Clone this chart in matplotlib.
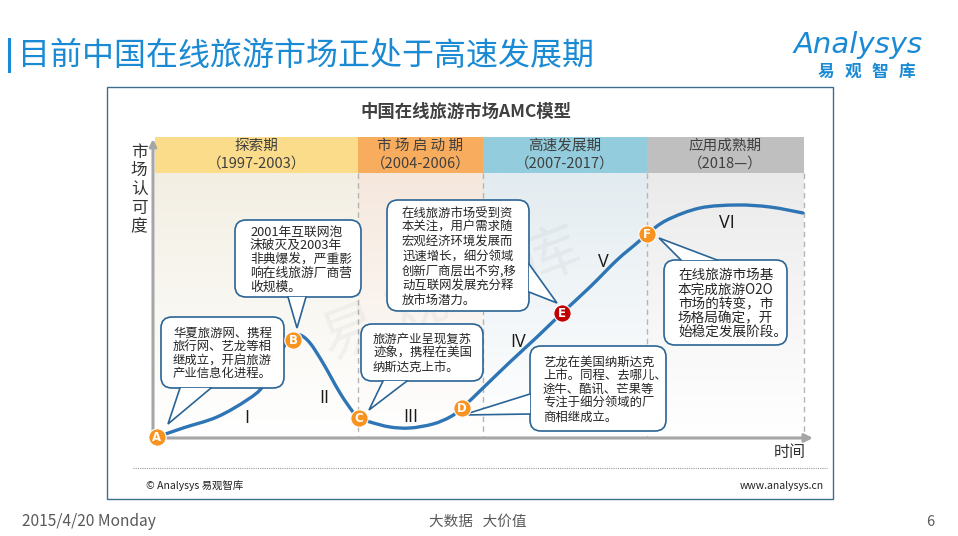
import numpy as np
import matplotlib
matplotlib.use("Agg")
import matplotlib.pyplot as plt
from matplotlib.path import Path
from matplotlib.patches import PathPatch, FancyBboxPatch, Polygon, Rectangle

plt.rcParams['font.family'] = ['Noto Sans CJK SC', 'DejaVu Sans']

# ---- data (pixel units of the 958x536 slide) ----
stage_names = ['探索期', '市 场 启 动 期', '高速发展期', '应用成熟期']
stage_years = ['（1997-2003）', '（2004-2006）', '（2007-2017）', '（2018—）']
stage_edges = [155, 358, 483, 647, 804]
stage_head = ['#fbdc8b', '#f8ad5e', '#93cddd', '#bfbfbf']
stage_tint = ['#f2eee2', '#f5e7dc', '#e2ebf0', '#eaeaea']

curve_x = [157, 183, 217, 247, 263, 275, 287, 293, 300, 310, 323, 340, 353, 359,
           370, 390, 410, 433, 450, 462, 483, 510, 537, 562, 590, 617, 637, 647,
           667, 700, 737, 770, 803]
curve_y = [437, 428, 417, 400, 386, 359, 343, 338, 335, 343, 363, 393, 412, 418,
           422, 427, 428, 424, 417, 408, 388, 362, 337, 313, 287, 260, 243, 234,
           220, 208, 205, 207, 213]

point_names = ['A', 'B', 'C', 'D', 'E', 'F']
point_x = [157, 293, 359, 462, 562, 647]
point_y = [437, 340, 418, 408, 313, 234]
point_colors = ['#f7931e', '#f7931e', '#f7931e', '#f7931e', '#c00000', '#f7931e']

numerals = ['I', 'II', 'III', 'IV', 'V', 'VI']
numeral_x = [247, 324, 411, 518, 603, 727]
numeral_y = [418, 398, 417, 342, 262, 223]

notes = [
    ['华夏旅游网、携程', '旅行网、艺龙等相', '继成立，开启旅游', '产业信息化进程。'],
    ['2001年互联网泡', '沫破灭及2003年', '非典爆发，严重影', '响在线旅游厂商营', '收规模。'],
    ['旅游产业呈现复苏', '迹象，携程在美国', '纳斯达克上市。'],
    ['在线旅游市场受到资', '本关注，用户需求随', '宏观经济环境发展而', '迅速增长，细分领域',
     '创新厂商层出不穷,移', '动互联网发展充分释', '放市场潜力。'],
    ['艺龙在美国纳斯达克', '上市。同程、去哪儿、', '途牛、酷讯、芒果等', '专注于细分领域的厂', '商相继成立。'],
    ['在线旅游市场基', '本完成旅游O2O', '市场的转变，市', '场格局确定，开', '始稳定发展阶段。'],
]
# bubble box (x0, y0, x1, y1), tail base (two points) and tail tip
note_box = [(161, 317, 284, 388), (235, 220, 361, 297), (361, 324, 483, 381),
            (387, 200, 529, 311), (530, 346, 666, 431), (664, 260, 787, 345)]
note_tail = [((180, 388), (211, 388), (168, 424)),
             ((288, 297), (306, 297), (297, 328)),
             ((383, 381), (407, 381), (369, 410)),
             ((529, 264), (529, 292), (557, 303)),
             ((530, 394), (530, 414), (463, 415)),
             ((681, 260), (717, 260), (659, 238))]
note_text = [(173, 333, 13.5, 8.9), (250, 232, 13.8, 9.2), (373, 339, 14.0, 8.9),
             (402, 213, 14.6, 8.9), (543, 362, 13.8, 8.9), (678, 275, 14.5, 9.8)]

BLUE = '#1a8ad4'
EDGE = '#2a6496'
TXT = '#262626'


def smooth_path(xs, ys):
    pts = np.column_stack([xs, ys]).astype(float)
    verts = [pts[0]]
    codes = [Path.MOVETO]
    n = len(pts)
    for i in range(n - 1):
        p0 = pts[i - 1] if i > 0 else pts[i]
        p1 = pts[i]
        p2 = pts[i + 1]
        p3 = pts[i + 2] if i + 2 < n else pts[i + 1]
        verts += [p1 + (p2 - p0) / 6, p2 - (p3 - p1) / 6, p2]
        codes += [Path.CURVE4] * 3
    return Path(verts, codes)


fig = plt.figure(figsize=(9.58, 5.36), dpi=100)
ax = fig.add_axes([0, 0, 1, 1])
ax.axis('off')

# slide title
ax.add_patch(Rectangle((8, 38), 3, 35, color=BLUE, lw=0))
ax.text(18, 56, '目前中国在线旅游市场正处于高速发展期', fontsize=23, color=BLUE,
        va='center', ha='left')

# logo
ax.text(794, 45, 'Analysys', fontsize=21, color=BLUE, style='oblique', va='center', ha='left',
        family=['DejaVu Sans'])
for i, ch in enumerate('易观智库'):
    ax.text(826 + i * 27, 72, ch, fontsize=12, color=BLUE, fontweight='bold',
            va='center', ha='center')

# chart frame
ax.add_patch(Rectangle((107, 87), 726, 412, fill=False, ec='#3a6f8c', lw=1.0))
ax.text(466, 112, '中国在线旅游市场AMC模型', fontsize=12.5, fontweight='bold',
        color='#404040', ha='center', va='center')

# stage headers and tinted backgrounds
for i in range(4):
    x0, x1 = stage_edges[i], stage_edges[i + 1]
    ax.add_patch(Rectangle((x0, 137), x1 - x0, 36, color=stage_head[i], lw=0))
    cx = (x0 + x1) / 2
    ax.text(cx, 146, stage_names[i], fontsize=10.5, color='#404040', ha='center', va='center')
    ax.text(cx, 164, stage_years[i], fontsize=10.5, color='#404040', ha='center', va='center')
    top = np.array(matplotlib.colors.to_rgb(stage_tint[i]))
    t = np.linspace(0, 1, 128)[:, None] ** 0.9
    grad = top[None, :] * (1 - t) + np.ones(3)[None, :] * t
    ax.imshow(grad[:, None, :], extent=(x0, x1, 437, 173), aspect='auto', origin='upper',
              interpolation='bilinear', zorder=0.5)
    if i > 0:
        ax.plot([x0, x0], [173, 437], color='#b5b5b5', lw=1, ls=(0, (4, 3)), zorder=1)
ax.plot([stage_edges[-1]] * 2, [173, 437], color='#b5b5b5', lw=1, ls=(0, (4, 3)), zorder=1)

# axes arrows
ax.annotate('', xy=(813, 438), xytext=(152, 438),
            arrowprops=dict(arrowstyle='-|>', color='#a6a6a6', lw=2.2, mutation_scale=12,
                            shrinkA=0, shrinkB=0), zorder=2)
ax.annotate('', xy=(153, 139), xytext=(153, 439),
            arrowprops=dict(arrowstyle='-|>', color='#a6a6a6', lw=2.2, mutation_scale=10,
                            shrinkA=0, shrinkB=0), zorder=2)
for i, ch in enumerate('市场认可度'):
    ax.text(139, 152 + i * 18.8, ch, fontsize=12, color='#333333', ha='center', va='center')
ax.text(790, 453, '时间', fontsize=11.5, color='#333333', ha='center', va='center')

# watermark
ax.text(452, 296, '易 观 智 库', fontsize=42, color='#000000', alpha=0.04, rotation=21,
        ha='center', va='center', zorder=6)

# curve
ax.add_patch(PathPatch(smooth_path(curve_x, curve_y), fill=False, ec='#2e75b6', lw=2.4,
                       capstyle='round', zorder=3))

# roman numerals
for s, x, y in zip(numerals, numeral_x, numeral_y):
    ax.text(x, y, s, fontsize=13, color='#1a1a1a', ha='center', va='center',
            family=['Open Sans', 'DejaVu Sans'], zorder=4)

# bubbles
for lines, box, tail, tx in zip(notes, note_box, note_tail, note_text):
    x0, y0, x1, y1 = box
    ax.add_patch(FancyBboxPatch((x0, y0), x1 - x0, y1 - y0,
                                boxstyle='round,pad=0,rounding_size=11',
                                fc='white', ec=EDGE, lw=1.2, zorder=7))
    (bx0, by0), (bx1, by1), tip = tail
    ax.add_patch(Polygon([(bx0, by0), tip, (bx1, by1)], closed=True, fc='white', ec='none',
                         zorder=7.5))
    ax.plot([bx0, tip[0], bx1], [by0, tip[1], by1], color=EDGE, lw=1.2, zorder=7.6,
            solid_joinstyle='miter')
    lx, ly, step, fs = tx
    for k, line in enumerate(lines):
        ax.text(lx, ly + k * step, line, fontsize=fs, color=TXT, ha='left', va='center',
                zorder=8)

# points
for name, x, y, c in zip(point_names, point_x, point_y, point_colors):
    ax.plot(x, y, 'o', ms=12.5, mfc=c, mec='white', mew=0.8, zorder=9)
    ax.text(x, y + 0.5, name, fontsize=8.5, fontweight='bold', color='white',
            ha='center', va='center', family=['DejaVu Sans'], zorder=10)

# chart footer
ax.plot([133, 827], [468, 468], color='#9a9a9a', lw=0.8, ls=(0, (1, 1)))
ax.text(146, 486, '© Analysys 易观智库', fontsize=7.5, color='#222222', ha='left', va='center')
ax.text(824, 486, 'www.analysys.cn', fontsize=7.5, color='#222222', ha='right', va='center')

# slide footer
ax.text(22, 522, '2015/4/20 Monday', fontsize=11.2, color='#595959', ha='left', va='center')
ax.text(478, 522, '大数据   大价值', fontsize=10.5, color='#595959', ha='center', va='center')
ax.text(930, 522, '6', fontsize=10.5, color='#595959', ha='center', va='center')

ax.set_xlim(0, 958)
ax.set_ylim(536, 0)
fig.savefig('out.png', dpi=100)
